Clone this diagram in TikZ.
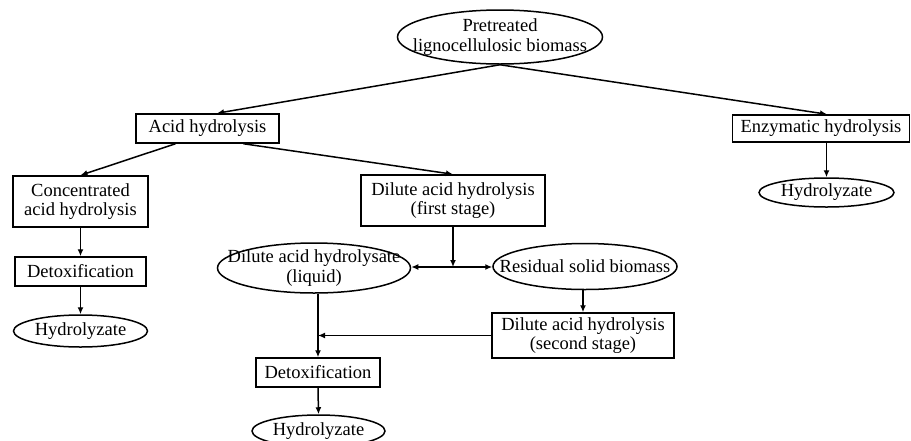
\documentclass[tikz,border=0pt]{standalone}
\usepackage{fontspec}
\setmainfont{Liberation Serif}
\usetikzlibrary{shapes.geometric,arrows.meta}
\begin{document}
\begin{tikzpicture}[x=1pt,y=-1pt,
  every node/.style={font=\fontsize{18.5}{19.5}\selectfont, align=center, inner sep=0pt},
  boxnode/.style={draw, line width=1.5pt, rectangle},
  ellnode/.style={draw, line width=1.5pt, ellipse},
  arr/.style={line width=1.5pt, -{Latex[length=7pt,width=6pt]}}]
\useasboundingbox (0,0) rectangle (911,440);
\clip (0,0) rectangle (911,440);
\fill[white] (0,0) rectangle (911,440);

\node[ellnode, minimum width=205pt, minimum height=54pt,
  label={[name=topT, align=center]center:Pretreated\\lignocellulosic biomass}] (top) at (500,37) {};
\node[boxnode, minimum width=143pt, minimum height=29pt] (acid) at (207.5,128.5) {Acid hydrolysis};
\node[boxnode, minimum width=177pt, minimum height=27pt] (enz) at (821,128.5) {Enzymatic hydrolysis};
\node[ellnode, minimum width=135pt, minimum height=29pt,
  label={[name=hydRT]center:Hydrolyzate}] (hydR) at (826.5,192.5) {};

\node[boxnode, minimum width=135pt, minimum height=51pt] (conc) at (80.5,201.5) {Concentrated\\acid hydrolysis};
\node[boxnode, minimum width=131pt, minimum height=29pt] (detoxL) at (80.5,271.5) {Detoxification};
\node[ellnode, minimum width=134pt, minimum height=32pt,
  label={[name=hydLT]center:Hydrolyzate}] (hydL) at (80.5,331) {};

\node[boxnode, minimum width=184pt, minimum height=51pt] (dil1) at (453,200.5) {Dilute acid hydrolysis\\(first stage)};
\node[ellnode, minimum width=193pt, minimum height=50pt,
  label={[name=liquidT, align=center]center:Dilute acid hydrolysate\\(liquid)}] (liquid) at (314,268) {};
\node[ellnode, minimum width=184pt, minimum height=46pt,
  label={[name=residT]center:Residual solid biomass}] (resid) at (585,266.5) {};
\node[boxnode, minimum width=182pt, minimum height=45pt] (dil2) at (583,335.5) {Dilute acid hydrolysis\\(second stage)};
\node[boxnode, minimum width=124pt, minimum height=29pt] (detoxM) at (318,372.5) {Detoxification};
\node[ellnode, minimum width=133pt, minimum height=32pt,
  label={[name=hydMT]center:Hydrolyzate}] (hydM) at (318.5,431) {};

\coordinate (j) at (453,267);
\coordinate (k) at (318,335.5);

\draw[arr] (top.south) -- ([xshift=9.5pt]acid.north);
\draw[arr] (top.south) -- ([xshift=6pt]enz.north);
\draw[arr] (hydR.north |- enz.south) -- (hydR.north);

\draw[arr] ([xshift=-32pt]acid.south) -- (conc.north);
\draw[arr] ([xshift=36pt]acid.south) -- (dil1.north);
\draw[arr] (conc.south) -- (detoxL.north);
\draw[arr] (detoxL.south) -- (hydL.north);

\draw[arr] (dil1.south) -- (j);
\draw[arr] (j) -- (liquid.east |- j);
\draw[arr] (j) -- (resid.west |- j);
\draw[arr] (resid.south -| dil2.north) -- (dil2.north);
\draw[arr] (dil2.west) -- (k);
\draw[arr] (liquid.south -| detoxM.north) -- (detoxM.north);
\draw[arr] (detoxM.south) -- (hydM.north);
\end{tikzpicture}
\end{document}
